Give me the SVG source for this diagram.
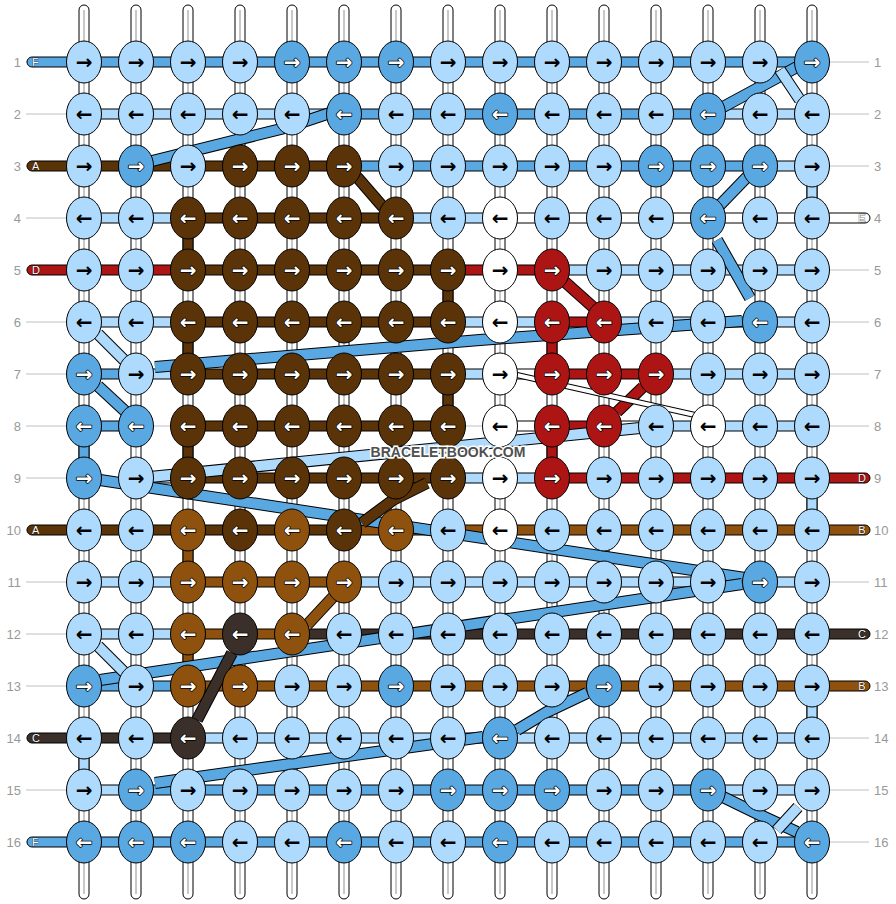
<svg xmlns="http://www.w3.org/2000/svg" xmlns:xlink="http://www.w3.org/1999/xlink" width="896" height="904" viewBox="0 0 896 904">
<style>
.n ellipse{stroke:#000;stroke-width:1}
.n text{font-family:"DejaVu Sans",sans-serif;font-weight:bold;font-size:20px;text-anchor:middle}
.L ellipse{fill:#aedbfd}.B ellipse{fill:#59a8e2}.D ellipse{fill:#5a3408}.O ellipse{fill:#8e520e}.R ellipse{fill:#ad1515}.K ellipse{fill:#3a3029}.W ellipse{fill:#fff}
.L text,.W text{fill:#000}
.B text,.D text,.O text,.R text,.K text{fill:#fff;stroke:#000;stroke-width:1.5px;paint-order:stroke;stroke-linejoin:round}
.fL{fill:#aedbfd}.fB{fill:#59a8e2}.fD{fill:#5a3408}.fO{fill:#8e520e}.fR{fill:#ad1515}.fK{fill:#3a3029}.fW{fill:#fff}
.lbl{font-family:"Liberation Sans",Arial,sans-serif;font-size:13px;fill:#999}
.tg{font-family:"Liberation Sans",Arial,sans-serif;font-size:11px;fill:#fff;stroke:#000;stroke-width:0.6px;paint-order:stroke}
.str rect{fill:#fff;stroke:#000;stroke-width:1}
.str line{stroke:#c8c8c8;stroke-width:2}
.gl line{stroke:#c0c0c0;stroke-width:1}
.bd polyline{fill:none;stroke-linejoin:round}
.o{stroke:#000;stroke-width:12px}
.cB{stroke:#59a8e2;stroke-width:10px}.cL{stroke:#aedbfd;stroke-width:10px}.cD{stroke:#5a3408;stroke-width:10px}.cR{stroke:#ad1515;stroke-width:10px}.cO{stroke:#8e520e;stroke-width:10px}.cK{stroke:#3a3029;stroke-width:10px}
.ow{stroke:#000;stroke-width:6px}.cW{stroke:#fff;stroke-width:4px}
.wm{font-family:"Liberation Sans",Arial,sans-serif;font-weight:bold;font-size:14px;fill:#505050;stroke:#fff;stroke-width:3px;paint-order:stroke;text-anchor:middle}
</style>
<defs>
<rect id="sg" y="-5" width="28" height="10" stroke="#000"/>
<rect id="vs" width="10" height="20" stroke="#000"/>
<rect id="tl" x="27" y="-5" width="44" height="10" rx="5" stroke="#000"/>
<rect id="tr" x="825" y="-5" width="45" height="10" rx="5" stroke="#000"/>
</defs>
<g id="guides" class="gl">
<line x1="26" y1="62" x2="869" y2="62"/><line x1="26" y1="114" x2="869" y2="114"/><line x1="26" y1="166" x2="869" y2="166"/><line x1="26" y1="218" x2="869" y2="218"/><line x1="26" y1="270" x2="869" y2="270"/><line x1="26" y1="322" x2="869" y2="322"/><line x1="26" y1="374" x2="869" y2="374"/><line x1="26" y1="426" x2="869" y2="426"/><line x1="26" y1="478" x2="869" y2="478"/><line x1="26" y1="530" x2="869" y2="530"/><line x1="26" y1="582" x2="869" y2="582"/><line x1="26" y1="634" x2="869" y2="634"/><line x1="26" y1="686" x2="869" y2="686"/><line x1="26" y1="738" x2="869" y2="738"/><line x1="26" y1="790" x2="869" y2="790"/><line x1="26" y1="842" x2="869" y2="842"/>
</g>
<g id="row-labels" class="lbl">
<g text-anchor="end"><text x="21" y="67">1</text><text x="21" y="119">2</text><text x="21" y="171">3</text><text x="21" y="223">4</text><text x="21" y="275">5</text><text x="21" y="327">6</text><text x="21" y="379">7</text><text x="21" y="431">8</text><text x="21" y="483">9</text><text x="21" y="535">10</text><text x="21" y="587">11</text><text x="21" y="639">12</text><text x="21" y="691">13</text><text x="21" y="743">14</text><text x="21" y="795">15</text><text x="21" y="847">16</text></g>
<g><text x="874" y="67">1</text><text x="874" y="119">2</text><text x="874" y="171">3</text><text x="874" y="223">4</text><text x="874" y="275">5</text><text x="874" y="327">6</text><text x="874" y="379">7</text><text x="874" y="431">8</text><text x="874" y="483">9</text><text x="874" y="535">10</text><text x="874" y="587">11</text><text x="874" y="639">12</text><text x="874" y="691">13</text><text x="874" y="743">14</text><text x="874" y="795">15</text><text x="874" y="847">16</text></g>
</g>
<g id="strings" class="str">
<rect x="79" y="5" width="10" height="894" rx="5"/><line x1="84" y1="10" x2="84" y2="894"/>
<rect x="131" y="5" width="10" height="894" rx="5"/><line x1="136" y1="10" x2="136" y2="894"/>
<rect x="183" y="5" width="10" height="894" rx="5"/><line x1="188" y1="10" x2="188" y2="894"/>
<rect x="235" y="5" width="10" height="894" rx="5"/><line x1="240" y1="10" x2="240" y2="894"/>
<rect x="287" y="5" width="10" height="894" rx="5"/><line x1="292" y1="10" x2="292" y2="894"/>
<rect x="339" y="5" width="10" height="894" rx="5"/><line x1="344" y1="10" x2="344" y2="894"/>
<rect x="391" y="5" width="10" height="894" rx="5"/><line x1="396" y1="10" x2="396" y2="894"/>
<rect x="443" y="5" width="10" height="894" rx="5"/><line x1="448" y1="10" x2="448" y2="894"/>
<rect x="495" y="5" width="10" height="894" rx="5"/><line x1="500" y1="10" x2="500" y2="894"/>
<rect x="547" y="5" width="10" height="894" rx="5"/><line x1="552" y1="10" x2="552" y2="894"/>
<rect x="599" y="5" width="10" height="894" rx="5"/><line x1="604" y1="10" x2="604" y2="894"/>
<rect x="651" y="5" width="10" height="894" rx="5"/><line x1="656" y1="10" x2="656" y2="894"/>
<rect x="703" y="5" width="10" height="894" rx="5"/><line x1="708" y1="10" x2="708" y2="894"/>
<rect x="755" y="5" width="10" height="894" rx="5"/><line x1="760" y1="10" x2="760" y2="894"/>
<rect x="807" y="5" width="10" height="894" rx="5"/><line x1="812" y1="10" x2="812" y2="894"/>
</g>
<g id="connectors">
<g id="vertical-segments">
<use href="#vs" x="183" y="234" class="fD"/><use href="#vs" x="443" y="286" class="fD"/><use href="#vs" x="183" y="338" class="fD"/><use href="#vs" x="443" y="390" class="fD"/><use href="#vs" x="183" y="442" class="fD"/><use href="#vs" x="79" y="442" class="fB"/><use href="#vs" x="547" y="338" class="fR"/><use href="#vs" x="547" y="442" class="fR"/><use href="#vs" x="183" y="546" class="fO"/><use href="#vs" x="183" y="650" class="fO"/><use href="#vs" x="807" y="182" class="fL"/><use href="#vs" x="807" y="494" class="fL"/><use href="#vs" x="807" y="702" class="fL"/><use href="#vs" x="79" y="754" class="fL"/>
</g>
<g id="row-segments">
<g transform="translate(0 62)"><use href="#tl" class="fB"/><use href="#sg" x="96" class="fB"/><use href="#sg" x="148" class="fB"/><use href="#sg" x="200" class="fB"/><use href="#sg" x="252" class="fB"/><use href="#sg" x="304" class="fB"/><use href="#sg" x="356" class="fB"/><use href="#sg" x="408" class="fB"/><use href="#sg" x="460" class="fB"/><use href="#sg" x="512" class="fB"/><use href="#sg" x="564" class="fB"/><use href="#sg" x="616" class="fB"/><use href="#sg" x="668" class="fB"/><use href="#sg" x="720" class="fB"/><use href="#sg" x="772" class="fB"/></g>
<g transform="translate(0 114)"><use href="#sg" x="96" class="fL"/><use href="#sg" x="148" class="fL"/><use href="#sg" x="200" class="fL"/><use href="#sg" x="252" class="fL"/><use href="#sg" x="304" class="fL"/><use href="#sg" x="356" class="fB"/><use href="#sg" x="408" class="fB"/><use href="#sg" x="460" class="fB"/><use href="#sg" x="512" class="fB"/><use href="#sg" x="564" class="fB"/><use href="#sg" x="616" class="fB"/><use href="#sg" x="668" class="fB"/><use href="#sg" x="720" class="fL"/><use href="#sg" x="772" class="fL"/></g>
<g transform="translate(0 166)"><use href="#tl" class="fD"/><use href="#sg" x="96" class="fD"/><use href="#sg" x="148" class="fD"/><use href="#sg" x="200" class="fD"/><use href="#sg" x="252" class="fD"/><use href="#sg" x="304" class="fD"/><use href="#sg" x="356" class="fB"/><use href="#sg" x="408" class="fB"/><use href="#sg" x="460" class="fB"/><use href="#sg" x="512" class="fB"/><use href="#sg" x="564" class="fB"/><use href="#sg" x="616" class="fB"/><use href="#sg" x="668" class="fB"/><use href="#sg" x="720" class="fB"/><use href="#sg" x="772" class="fL"/></g>
<g transform="translate(0 218)"><use href="#sg" x="96" class="fL"/><use href="#sg" x="148" class="fL"/><use href="#sg" x="200" class="fD"/><use href="#sg" x="252" class="fD"/><use href="#sg" x="304" class="fD"/><use href="#sg" x="356" class="fD"/><use href="#sg" x="408" class="fL"/><use href="#sg" x="460" class="fL"/><use href="#sg" x="512" class="fW"/><use href="#sg" x="564" class="fW"/><use href="#sg" x="616" class="fW"/><use href="#sg" x="668" class="fW"/><use href="#sg" x="720" class="fW"/><use href="#sg" x="772" class="fW"/><use href="#tr" class="fW"/></g>
<g transform="translate(0 270)"><use href="#tl" class="fR"/><use href="#sg" x="96" class="fR"/><use href="#sg" x="148" class="fR"/><use href="#sg" x="200" class="fD"/><use href="#sg" x="252" class="fD"/><use href="#sg" x="304" class="fD"/><use href="#sg" x="356" class="fD"/><use href="#sg" x="408" class="fD"/><use href="#sg" x="460" class="fR"/><use href="#sg" x="512" class="fR"/><use href="#sg" x="564" class="fL"/><use href="#sg" x="616" class="fL"/><use href="#sg" x="668" class="fL"/><use href="#sg" x="720" class="fL"/><use href="#sg" x="772" class="fL"/></g>
<g transform="translate(0 322)"><use href="#sg" x="96" class="fL"/><use href="#sg" x="148" class="fL"/><use href="#sg" x="200" class="fD"/><use href="#sg" x="252" class="fD"/><use href="#sg" x="304" class="fD"/><use href="#sg" x="356" class="fD"/><use href="#sg" x="408" class="fD"/><use href="#sg" x="460" class="fL"/><use href="#sg" x="512" class="fL"/><use href="#sg" x="564" class="fR"/><use href="#sg" x="616" class="fL"/><use href="#sg" x="668" class="fL"/><use href="#sg" x="720" class="fB"/><use href="#sg" x="772" class="fL"/></g>
<g transform="translate(0 374)"><use href="#sg" x="96" class="fB"/><use href="#sg" x="148" class="fL"/><use href="#sg" x="200" class="fD"/><use href="#sg" x="252" class="fD"/><use href="#sg" x="304" class="fD"/><use href="#sg" x="356" class="fD"/><use href="#sg" x="408" class="fD"/><use href="#sg" x="460" class="fL"/><use href="#sg" x="512" class="fW"/><use href="#sg" x="564" class="fR"/><use href="#sg" x="616" class="fR"/><use href="#sg" x="668" class="fL"/><use href="#sg" x="720" class="fL"/><use href="#sg" x="772" class="fL"/></g>
<g transform="translate(0 426)"><use href="#sg" x="96" class="fB"/><use href="#sg" x="200" class="fD"/><use href="#sg" x="252" class="fD"/><use href="#sg" x="304" class="fD"/><use href="#sg" x="356" class="fD"/><use href="#sg" x="408" class="fD"/><use href="#sg" x="512" class="fW"/><use href="#sg" x="564" class="fR"/><use href="#sg" x="616" class="fW"/><use href="#sg" x="668" class="fL"/><use href="#sg" x="720" class="fL"/><use href="#sg" x="772" class="fL"/></g>
<g transform="translate(0 478)"><use href="#sg" x="148" class="fL"/><use href="#sg" x="200" class="fD"/><use href="#sg" x="252" class="fD"/><use href="#sg" x="304" class="fD"/><use href="#sg" x="356" class="fD"/><use href="#sg" x="408" class="fD"/><use href="#sg" x="460" class="fL"/><use href="#sg" x="512" class="fL"/><use href="#sg" x="564" class="fR"/><use href="#sg" x="616" class="fR"/><use href="#sg" x="668" class="fR"/><use href="#sg" x="720" class="fR"/><use href="#sg" x="772" class="fR"/><use href="#tr" class="fR"/></g>
<g transform="translate(0 530)"><use href="#tl" class="fD"/><use href="#sg" x="96" class="fD"/><use href="#sg" x="148" class="fD"/><use href="#sg" x="200" class="fD"/><use href="#sg" x="252" class="fD"/><use href="#sg" x="304" class="fD"/><use href="#sg" x="356" class="fO"/><use href="#sg" x="408" class="fO"/><use href="#sg" x="460" class="fO"/><use href="#sg" x="512" class="fO"/><use href="#sg" x="564" class="fO"/><use href="#sg" x="616" class="fO"/><use href="#sg" x="668" class="fO"/><use href="#sg" x="720" class="fO"/><use href="#sg" x="772" class="fO"/><use href="#tr" class="fO"/></g>
<g transform="translate(0 582)"><use href="#sg" x="96" class="fL"/><use href="#sg" x="148" class="fL"/><use href="#sg" x="200" class="fO"/><use href="#sg" x="252" class="fO"/><use href="#sg" x="304" class="fO"/><use href="#sg" x="356" class="fL"/><use href="#sg" x="408" class="fL"/><use href="#sg" x="460" class="fL"/><use href="#sg" x="512" class="fL"/><use href="#sg" x="564" class="fL"/><use href="#sg" x="616" class="fL"/><use href="#sg" x="668" class="fL"/><use href="#sg" x="720" class="fB"/><use href="#sg" x="772" class="fL"/></g>
<g transform="translate(0 634)"><use href="#sg" x="96" class="fL"/><use href="#sg" x="148" class="fL"/><use href="#sg" x="200" class="fO"/><use href="#sg" x="252" class="fO"/><use href="#sg" x="304" class="fK"/><use href="#sg" x="356" class="fK"/><use href="#sg" x="408" class="fK"/><use href="#sg" x="460" class="fK"/><use href="#sg" x="512" class="fK"/><use href="#sg" x="564" class="fK"/><use href="#sg" x="616" class="fK"/><use href="#sg" x="668" class="fK"/><use href="#sg" x="720" class="fK"/><use href="#sg" x="772" class="fK"/><use href="#tr" class="fK"/></g>
<g transform="translate(0 686)"><use href="#sg" x="96" class="fB"/><use href="#sg" x="148" class="fB"/><use href="#sg" x="200" class="fO"/><use href="#sg" x="252" class="fO"/><use href="#sg" x="304" class="fO"/><use href="#sg" x="356" class="fO"/><use href="#sg" x="408" class="fO"/><use href="#sg" x="460" class="fO"/><use href="#sg" x="512" class="fO"/><use href="#sg" x="564" class="fO"/><use href="#sg" x="616" class="fO"/><use href="#sg" x="668" class="fO"/><use href="#sg" x="720" class="fO"/><use href="#sg" x="772" class="fO"/><use href="#tr" class="fO"/></g>
<g transform="translate(0 738)"><use href="#tl" class="fK"/><use href="#sg" x="96" class="fK"/><use href="#sg" x="148" class="fK"/><use href="#sg" x="200" class="fL"/><use href="#sg" x="252" class="fL"/><use href="#sg" x="304" class="fL"/><use href="#sg" x="356" class="fL"/><use href="#sg" x="408" class="fL"/><use href="#sg" x="460" class="fL"/><use href="#sg" x="512" class="fL"/><use href="#sg" x="564" class="fL"/><use href="#sg" x="616" class="fL"/><use href="#sg" x="668" class="fL"/><use href="#sg" x="720" class="fL"/><use href="#sg" x="772" class="fL"/></g>
<g transform="translate(0 790)"><use href="#sg" x="96" class="fL"/><use href="#sg" x="148" class="fB"/><use href="#sg" x="200" class="fB"/><use href="#sg" x="252" class="fB"/><use href="#sg" x="304" class="fB"/><use href="#sg" x="356" class="fB"/><use href="#sg" x="408" class="fB"/><use href="#sg" x="460" class="fB"/><use href="#sg" x="512" class="fB"/><use href="#sg" x="564" class="fB"/><use href="#sg" x="616" class="fB"/><use href="#sg" x="668" class="fB"/><use href="#sg" x="720" class="fL"/><use href="#sg" x="772" class="fL"/></g>
<g transform="translate(0 842)"><use href="#tl" class="fB"/><use href="#sg" x="96" class="fB"/><use href="#sg" x="148" class="fB"/><use href="#sg" x="200" class="fB"/><use href="#sg" x="252" class="fB"/><use href="#sg" x="304" class="fB"/><use href="#sg" x="356" class="fB"/><use href="#sg" x="408" class="fB"/><use href="#sg" x="460" class="fB"/><use href="#sg" x="512" class="fB"/><use href="#sg" x="564" class="fB"/><use href="#sg" x="616" class="fB"/><use href="#sg" x="668" class="fB"/><use href="#sg" x="720" class="fB"/><use href="#sg" x="772" class="fB"/></g>
</g>
<g id="tag-letters" class="tg">
<text x="32" y="66">F</text><text x="32" y="170">A</text><text x="32" y="274">D</text><text x="32" y="534">A</text><text x="32" y="742">C</text><text x="32" y="846">F</text>
<g text-anchor="middle"><text x="862" y="222">E</text><text x="862" y="482">D</text><text x="862" y="534">B</text><text x="862" y="638">C</text><text x="862" y="690">B</text></g>
</g>
<g id="diagonals" class="bd">
<polyline class="o" points="152,161 285,128 330,113"/><polyline class="cB" points="152,161 285,128 330,113"/>
<polyline class="o" points="797,67 760,87 723,107"/><polyline class="cB" points="797,67 760,87 723,107"/>
<polyline class="o" points="780,70 800,100"/><polyline class="cL" points="780,70 800,100"/>
<polyline class="o" points="747,177 720,205"/><polyline class="cB" points="747,177 720,205"/>
<polyline class="o" points="717,240 750,298"/><polyline class="cB" points="717,240 750,298"/>
<polyline class="o" points="357,177 383,207"/><polyline class="cD" points="357,177 383,207"/>
<polyline class="o" points="565,282 593,307"/><polyline class="cR" points="565,282 593,307"/>
<polyline class="o" points="643,387 617,412"/><polyline class="cR" points="643,387 617,412"/>
<polyline class="o" points="155,367 480,340 742,321"/><polyline class="cB" points="155,367 480,340 742,321"/>
<polyline class="o" points="98,334 126,362"/><polyline class="cL" points="98,334 126,362"/>
<polyline class="o" points="98,386 126,412"/><polyline class="cB" points="98,386 126,412"/>
<polyline class="ow" points="517,375 695,415"/><polyline class="cW" points="517,375 695,415"/>
<polyline class="o" points="150,477 640,428"/><polyline class="cL" points="150,477 640,428"/>
<polyline class="o" points="100,480 745,578"/><polyline class="cB" points="100,480 745,578"/>
<polyline class="o" points="742,584 100,680"/><polyline class="cB" points="742,584 100,680"/>
<polyline class="o" points="98,646 126,674"/><polyline class="cL" points="98,646 126,674"/>
<polyline class="o" points="333,597 307,625"/><polyline class="cO" points="333,597 307,625"/>
<polyline class="o" points="232,653 197,720"/><polyline class="cK" points="232,653 197,720"/>
<polyline class="o" points="427,483 393,500 362,523"/><polyline class="cD" points="427,483 393,500 362,523"/>
<polyline class="o" points="587,693 547,712 517,730"/><polyline class="cB" points="587,693 547,712 517,730"/>
<polyline class="o" points="483,737 155,783"/><polyline class="cB" points="483,737 155,783"/>
<polyline class="o" points="723,797 760,815 797,832"/><polyline class="cB" points="723,797 760,815 797,832"/>
<polyline class="o" points="798,807 777,830"/><polyline class="cL" points="798,807 777,830"/>
</g>
</g>
<g id="nodes">
<g id="n1-1" class="n L" transform="translate(84 62)"><ellipse rx="17.5" ry="21"/><text y="6.5">→</text></g>
<g id="n1-2" class="n L" transform="translate(136 62)"><ellipse rx="17.5" ry="21"/><text y="6.5">→</text></g>
<g id="n1-3" class="n L" transform="translate(188 62)"><ellipse rx="17.5" ry="21"/><text y="6.5">→</text></g>
<g id="n1-4" class="n L" transform="translate(240 62)"><ellipse rx="17.5" ry="21"/><text y="6.5">→</text></g>
<g id="n1-5" class="n B" transform="translate(292 62)"><ellipse rx="17.5" ry="21"/><text y="6.5">→</text></g>
<g id="n1-6" class="n B" transform="translate(344 62)"><ellipse rx="17.5" ry="21"/><text y="6.5">→</text></g>
<g id="n1-7" class="n B" transform="translate(396 62)"><ellipse rx="17.5" ry="21"/><text y="6.5">→</text></g>
<g id="n1-8" class="n L" transform="translate(448 62)"><ellipse rx="17.5" ry="21"/><text y="6.5">→</text></g>
<g id="n1-9" class="n L" transform="translate(500 62)"><ellipse rx="17.5" ry="21"/><text y="6.5">→</text></g>
<g id="n1-10" class="n L" transform="translate(552 62)"><ellipse rx="17.5" ry="21"/><text y="6.5">→</text></g>
<g id="n1-11" class="n L" transform="translate(604 62)"><ellipse rx="17.5" ry="21"/><text y="6.5">→</text></g>
<g id="n1-12" class="n L" transform="translate(656 62)"><ellipse rx="17.5" ry="21"/><text y="6.5">→</text></g>
<g id="n1-13" class="n L" transform="translate(708 62)"><ellipse rx="17.5" ry="21"/><text y="6.5">→</text></g>
<g id="n1-14" class="n L" transform="translate(760 62)"><ellipse rx="17.5" ry="21"/><text y="6.5">→</text></g>
<g id="n1-15" class="n B" transform="translate(812 62)"><ellipse rx="17.5" ry="21"/><text y="6.5">→</text></g>
<g id="n2-1" class="n L" transform="translate(84 114)"><ellipse rx="17.5" ry="21"/><text y="6.5">←</text></g>
<g id="n2-2" class="n L" transform="translate(136 114)"><ellipse rx="17.5" ry="21"/><text y="6.5">←</text></g>
<g id="n2-3" class="n L" transform="translate(188 114)"><ellipse rx="17.5" ry="21"/><text y="6.5">←</text></g>
<g id="n2-4" class="n L" transform="translate(240 114)"><ellipse rx="17.5" ry="21"/><text y="6.5">←</text></g>
<g id="n2-5" class="n L" transform="translate(292 114)"><ellipse rx="17.5" ry="21"/><text y="6.5">←</text></g>
<g id="n2-6" class="n B" transform="translate(344 114)"><ellipse rx="17.5" ry="21"/><text y="6.5">←</text></g>
<g id="n2-7" class="n L" transform="translate(396 114)"><ellipse rx="17.5" ry="21"/><text y="6.5">←</text></g>
<g id="n2-8" class="n L" transform="translate(448 114)"><ellipse rx="17.5" ry="21"/><text y="6.5">←</text></g>
<g id="n2-9" class="n B" transform="translate(500 114)"><ellipse rx="17.5" ry="21"/><text y="6.5">←</text></g>
<g id="n2-10" class="n L" transform="translate(552 114)"><ellipse rx="17.5" ry="21"/><text y="6.5">←</text></g>
<g id="n2-11" class="n L" transform="translate(604 114)"><ellipse rx="17.5" ry="21"/><text y="6.5">←</text></g>
<g id="n2-12" class="n L" transform="translate(656 114)"><ellipse rx="17.5" ry="21"/><text y="6.5">←</text></g>
<g id="n2-13" class="n B" transform="translate(708 114)"><ellipse rx="17.5" ry="21"/><text y="6.5">←</text></g>
<g id="n2-14" class="n L" transform="translate(760 114)"><ellipse rx="17.5" ry="21"/><text y="6.5">←</text></g>
<g id="n2-15" class="n L" transform="translate(812 114)"><ellipse rx="17.5" ry="21"/><text y="6.5">←</text></g>
<g id="n3-1" class="n L" transform="translate(84 166)"><ellipse rx="17.5" ry="21"/><text y="6.5">→</text></g>
<g id="n3-2" class="n B" transform="translate(136 166)"><ellipse rx="17.5" ry="21"/><text y="6.5">→</text></g>
<g id="n3-3" class="n L" transform="translate(188 166)"><ellipse rx="17.5" ry="21"/><text y="6.5">→</text></g>
<g id="n3-4" class="n D" transform="translate(240 166)"><ellipse rx="17.5" ry="21"/><text y="6.5">→</text></g>
<g id="n3-5" class="n D" transform="translate(292 166)"><ellipse rx="17.5" ry="21"/><text y="6.5">→</text></g>
<g id="n3-6" class="n D" transform="translate(344 166)"><ellipse rx="17.5" ry="21"/><text y="6.5">→</text></g>
<g id="n3-7" class="n L" transform="translate(396 166)"><ellipse rx="17.5" ry="21"/><text y="6.5">→</text></g>
<g id="n3-8" class="n L" transform="translate(448 166)"><ellipse rx="17.5" ry="21"/><text y="6.5">→</text></g>
<g id="n3-9" class="n L" transform="translate(500 166)"><ellipse rx="17.5" ry="21"/><text y="6.5">→</text></g>
<g id="n3-10" class="n L" transform="translate(552 166)"><ellipse rx="17.5" ry="21"/><text y="6.5">→</text></g>
<g id="n3-11" class="n L" transform="translate(604 166)"><ellipse rx="17.5" ry="21"/><text y="6.5">→</text></g>
<g id="n3-12" class="n B" transform="translate(656 166)"><ellipse rx="17.5" ry="21"/><text y="6.5">→</text></g>
<g id="n3-13" class="n B" transform="translate(708 166)"><ellipse rx="17.5" ry="21"/><text y="6.5">→</text></g>
<g id="n3-14" class="n B" transform="translate(760 166)"><ellipse rx="17.5" ry="21"/><text y="6.5">→</text></g>
<g id="n3-15" class="n L" transform="translate(812 166)"><ellipse rx="17.5" ry="21"/><text y="6.5">→</text></g>
<g id="n4-1" class="n L" transform="translate(84 218)"><ellipse rx="17.5" ry="21"/><text y="6.5">←</text></g>
<g id="n4-2" class="n L" transform="translate(136 218)"><ellipse rx="17.5" ry="21"/><text y="6.5">←</text></g>
<g id="n4-3" class="n D" transform="translate(188 218)"><ellipse rx="17.5" ry="21"/><text y="6.5">←</text></g>
<g id="n4-4" class="n D" transform="translate(240 218)"><ellipse rx="17.5" ry="21"/><text y="6.5">←</text></g>
<g id="n4-5" class="n D" transform="translate(292 218)"><ellipse rx="17.5" ry="21"/><text y="6.5">←</text></g>
<g id="n4-6" class="n D" transform="translate(344 218)"><ellipse rx="17.5" ry="21"/><text y="6.5">←</text></g>
<g id="n4-7" class="n D" transform="translate(396 218)"><ellipse rx="17.5" ry="21"/><text y="6.5">←</text></g>
<g id="n4-8" class="n L" transform="translate(448 218)"><ellipse rx="17.5" ry="21"/><text y="6.5">←</text></g>
<g id="n4-9" class="n W" transform="translate(500 218)"><ellipse rx="17.5" ry="21"/><text y="6.5">←</text></g>
<g id="n4-10" class="n L" transform="translate(552 218)"><ellipse rx="17.5" ry="21"/><text y="6.5">←</text></g>
<g id="n4-11" class="n L" transform="translate(604 218)"><ellipse rx="17.5" ry="21"/><text y="6.5">←</text></g>
<g id="n4-12" class="n L" transform="translate(656 218)"><ellipse rx="17.5" ry="21"/><text y="6.5">←</text></g>
<g id="n4-13" class="n B" transform="translate(708 218)"><ellipse rx="17.5" ry="21"/><text y="6.5">←</text></g>
<g id="n4-14" class="n L" transform="translate(760 218)"><ellipse rx="17.5" ry="21"/><text y="6.5">←</text></g>
<g id="n4-15" class="n L" transform="translate(812 218)"><ellipse rx="17.5" ry="21"/><text y="6.5">←</text></g>
<g id="n5-1" class="n L" transform="translate(84 270)"><ellipse rx="17.5" ry="21"/><text y="6.5">→</text></g>
<g id="n5-2" class="n L" transform="translate(136 270)"><ellipse rx="17.5" ry="21"/><text y="6.5">→</text></g>
<g id="n5-3" class="n D" transform="translate(188 270)"><ellipse rx="17.5" ry="21"/><text y="6.5">→</text></g>
<g id="n5-4" class="n D" transform="translate(240 270)"><ellipse rx="17.5" ry="21"/><text y="6.5">→</text></g>
<g id="n5-5" class="n D" transform="translate(292 270)"><ellipse rx="17.5" ry="21"/><text y="6.5">→</text></g>
<g id="n5-6" class="n D" transform="translate(344 270)"><ellipse rx="17.5" ry="21"/><text y="6.5">→</text></g>
<g id="n5-7" class="n D" transform="translate(396 270)"><ellipse rx="17.5" ry="21"/><text y="6.5">→</text></g>
<g id="n5-8" class="n D" transform="translate(448 270)"><ellipse rx="17.5" ry="21"/><text y="6.5">→</text></g>
<g id="n5-9" class="n W" transform="translate(500 270)"><ellipse rx="17.5" ry="21"/><text y="6.5">→</text></g>
<g id="n5-10" class="n R" transform="translate(552 270)"><ellipse rx="17.5" ry="21"/><text y="6.5">→</text></g>
<g id="n5-11" class="n L" transform="translate(604 270)"><ellipse rx="17.5" ry="21"/><text y="6.5">→</text></g>
<g id="n5-12" class="n L" transform="translate(656 270)"><ellipse rx="17.5" ry="21"/><text y="6.5">→</text></g>
<g id="n5-13" class="n L" transform="translate(708 270)"><ellipse rx="17.5" ry="21"/><text y="6.5">→</text></g>
<g id="n5-14" class="n L" transform="translate(760 270)"><ellipse rx="17.5" ry="21"/><text y="6.5">→</text></g>
<g id="n5-15" class="n L" transform="translate(812 270)"><ellipse rx="17.5" ry="21"/><text y="6.5">→</text></g>
<g id="n6-1" class="n L" transform="translate(84 322)"><ellipse rx="17.5" ry="21"/><text y="6.5">←</text></g>
<g id="n6-2" class="n L" transform="translate(136 322)"><ellipse rx="17.5" ry="21"/><text y="6.5">←</text></g>
<g id="n6-3" class="n D" transform="translate(188 322)"><ellipse rx="17.5" ry="21"/><text y="6.5">←</text></g>
<g id="n6-4" class="n D" transform="translate(240 322)"><ellipse rx="17.5" ry="21"/><text y="6.5">←</text></g>
<g id="n6-5" class="n D" transform="translate(292 322)"><ellipse rx="17.5" ry="21"/><text y="6.5">←</text></g>
<g id="n6-6" class="n D" transform="translate(344 322)"><ellipse rx="17.5" ry="21"/><text y="6.5">←</text></g>
<g id="n6-7" class="n D" transform="translate(396 322)"><ellipse rx="17.5" ry="21"/><text y="6.5">←</text></g>
<g id="n6-8" class="n D" transform="translate(448 322)"><ellipse rx="17.5" ry="21"/><text y="6.5">←</text></g>
<g id="n6-9" class="n W" transform="translate(500 322)"><ellipse rx="17.5" ry="21"/><text y="6.5">←</text></g>
<g id="n6-10" class="n R" transform="translate(552 322)"><ellipse rx="17.5" ry="21"/><text y="6.5">←</text></g>
<g id="n6-11" class="n R" transform="translate(604 322)"><ellipse rx="17.5" ry="21"/><text y="6.5">←</text></g>
<g id="n6-12" class="n L" transform="translate(656 322)"><ellipse rx="17.5" ry="21"/><text y="6.5">←</text></g>
<g id="n6-13" class="n L" transform="translate(708 322)"><ellipse rx="17.5" ry="21"/><text y="6.5">←</text></g>
<g id="n6-14" class="n B" transform="translate(760 322)"><ellipse rx="17.5" ry="21"/><text y="6.5">←</text></g>
<g id="n6-15" class="n L" transform="translate(812 322)"><ellipse rx="17.5" ry="21"/><text y="6.5">←</text></g>
<g id="n7-1" class="n B" transform="translate(84 374)"><ellipse rx="17.5" ry="21"/><text y="6.5">→</text></g>
<g id="n7-2" class="n L" transform="translate(136 374)"><ellipse rx="17.5" ry="21"/><text y="6.5">→</text></g>
<g id="n7-3" class="n D" transform="translate(188 374)"><ellipse rx="17.5" ry="21"/><text y="6.5">→</text></g>
<g id="n7-4" class="n D" transform="translate(240 374)"><ellipse rx="17.5" ry="21"/><text y="6.5">→</text></g>
<g id="n7-5" class="n D" transform="translate(292 374)"><ellipse rx="17.5" ry="21"/><text y="6.5">→</text></g>
<g id="n7-6" class="n D" transform="translate(344 374)"><ellipse rx="17.5" ry="21"/><text y="6.5">→</text></g>
<g id="n7-7" class="n D" transform="translate(396 374)"><ellipse rx="17.5" ry="21"/><text y="6.5">→</text></g>
<g id="n7-8" class="n D" transform="translate(448 374)"><ellipse rx="17.5" ry="21"/><text y="6.5">→</text></g>
<g id="n7-9" class="n W" transform="translate(500 374)"><ellipse rx="17.5" ry="21"/><text y="6.5">→</text></g>
<g id="n7-10" class="n R" transform="translate(552 374)"><ellipse rx="17.5" ry="21"/><text y="6.5">→</text></g>
<g id="n7-11" class="n R" transform="translate(604 374)"><ellipse rx="17.5" ry="21"/><text y="6.5">→</text></g>
<g id="n7-12" class="n R" transform="translate(656 374)"><ellipse rx="17.5" ry="21"/><text y="6.5">→</text></g>
<g id="n7-13" class="n L" transform="translate(708 374)"><ellipse rx="17.5" ry="21"/><text y="6.5">→</text></g>
<g id="n7-14" class="n L" transform="translate(760 374)"><ellipse rx="17.5" ry="21"/><text y="6.5">→</text></g>
<g id="n7-15" class="n L" transform="translate(812 374)"><ellipse rx="17.5" ry="21"/><text y="6.5">→</text></g>
<g id="n8-1" class="n B" transform="translate(84 426)"><ellipse rx="17.5" ry="21"/><text y="6.5">←</text></g>
<g id="n8-2" class="n B" transform="translate(136 426)"><ellipse rx="17.5" ry="21"/><text y="6.5">←</text></g>
<g id="n8-3" class="n D" transform="translate(188 426)"><ellipse rx="17.5" ry="21"/><text y="6.5">←</text></g>
<g id="n8-4" class="n D" transform="translate(240 426)"><ellipse rx="17.5" ry="21"/><text y="6.5">←</text></g>
<g id="n8-5" class="n D" transform="translate(292 426)"><ellipse rx="17.5" ry="21"/><text y="6.5">←</text></g>
<g id="n8-6" class="n D" transform="translate(344 426)"><ellipse rx="17.5" ry="21"/><text y="6.5">←</text></g>
<g id="n8-7" class="n D" transform="translate(396 426)"><ellipse rx="17.5" ry="21"/><text y="6.5">←</text></g>
<g id="n8-8" class="n D" transform="translate(448 426)"><ellipse rx="17.5" ry="21"/><text y="6.5">←</text></g>
<g id="n8-9" class="n W" transform="translate(500 426)"><ellipse rx="17.5" ry="21"/><text y="6.5">←</text></g>
<g id="n8-10" class="n R" transform="translate(552 426)"><ellipse rx="17.5" ry="21"/><text y="6.5">←</text></g>
<g id="n8-11" class="n R" transform="translate(604 426)"><ellipse rx="17.5" ry="21"/><text y="6.5">←</text></g>
<g id="n8-12" class="n L" transform="translate(656 426)"><ellipse rx="17.5" ry="21"/><text y="6.5">←</text></g>
<g id="n8-13" class="n W" transform="translate(708 426)"><ellipse rx="17.5" ry="21"/><text y="6.5">←</text></g>
<g id="n8-14" class="n L" transform="translate(760 426)"><ellipse rx="17.5" ry="21"/><text y="6.5">←</text></g>
<g id="n8-15" class="n L" transform="translate(812 426)"><ellipse rx="17.5" ry="21"/><text y="6.5">←</text></g>
<g id="n9-1" class="n B" transform="translate(84 478)"><ellipse rx="17.5" ry="21"/><text y="6.5">→</text></g>
<g id="n9-2" class="n L" transform="translate(136 478)"><ellipse rx="17.5" ry="21"/><text y="6.5">→</text></g>
<g id="n9-3" class="n D" transform="translate(188 478)"><ellipse rx="17.5" ry="21"/><text y="6.5">→</text></g>
<g id="n9-4" class="n D" transform="translate(240 478)"><ellipse rx="17.5" ry="21"/><text y="6.5">→</text></g>
<g id="n9-5" class="n D" transform="translate(292 478)"><ellipse rx="17.5" ry="21"/><text y="6.5">→</text></g>
<g id="n9-6" class="n D" transform="translate(344 478)"><ellipse rx="17.5" ry="21"/><text y="6.5">→</text></g>
<g id="n9-7" class="n D" transform="translate(396 478)"><ellipse rx="17.5" ry="21"/><text y="6.5">→</text></g>
<g id="n9-8" class="n D" transform="translate(448 478)"><ellipse rx="17.5" ry="21"/><text y="6.5">→</text></g>
<g id="n9-9" class="n W" transform="translate(500 478)"><ellipse rx="17.5" ry="21"/><text y="6.5">→</text></g>
<g id="n9-10" class="n R" transform="translate(552 478)"><ellipse rx="17.5" ry="21"/><text y="6.5">→</text></g>
<g id="n9-11" class="n L" transform="translate(604 478)"><ellipse rx="17.5" ry="21"/><text y="6.5">→</text></g>
<g id="n9-12" class="n L" transform="translate(656 478)"><ellipse rx="17.5" ry="21"/><text y="6.5">→</text></g>
<g id="n9-13" class="n L" transform="translate(708 478)"><ellipse rx="17.5" ry="21"/><text y="6.5">→</text></g>
<g id="n9-14" class="n L" transform="translate(760 478)"><ellipse rx="17.5" ry="21"/><text y="6.5">→</text></g>
<g id="n9-15" class="n L" transform="translate(812 478)"><ellipse rx="17.5" ry="21"/><text y="6.5">→</text></g>
<g id="n10-1" class="n L" transform="translate(84 530)"><ellipse rx="17.5" ry="21"/><text y="6.5">←</text></g>
<g id="n10-2" class="n L" transform="translate(136 530)"><ellipse rx="17.5" ry="21"/><text y="6.5">←</text></g>
<g id="n10-3" class="n O" transform="translate(188 530)"><ellipse rx="17.5" ry="21"/><text y="6.5">←</text></g>
<g id="n10-4" class="n D" transform="translate(240 530)"><ellipse rx="17.5" ry="21"/><text y="6.5">←</text></g>
<g id="n10-5" class="n O" transform="translate(292 530)"><ellipse rx="17.5" ry="21"/><text y="6.5">←</text></g>
<g id="n10-6" class="n D" transform="translate(344 530)"><ellipse rx="17.5" ry="21"/><text y="6.5">←</text></g>
<g id="n10-7" class="n O" transform="translate(396 530)"><ellipse rx="17.5" ry="21"/><text y="6.5">←</text></g>
<g id="n10-8" class="n L" transform="translate(448 530)"><ellipse rx="17.5" ry="21"/><text y="6.5">←</text></g>
<g id="n10-9" class="n W" transform="translate(500 530)"><ellipse rx="17.5" ry="21"/><text y="6.5">←</text></g>
<g id="n10-10" class="n L" transform="translate(552 530)"><ellipse rx="17.5" ry="21"/><text y="6.5">←</text></g>
<g id="n10-11" class="n L" transform="translate(604 530)"><ellipse rx="17.5" ry="21"/><text y="6.5">←</text></g>
<g id="n10-12" class="n L" transform="translate(656 530)"><ellipse rx="17.5" ry="21"/><text y="6.5">←</text></g>
<g id="n10-13" class="n L" transform="translate(708 530)"><ellipse rx="17.5" ry="21"/><text y="6.5">←</text></g>
<g id="n10-14" class="n L" transform="translate(760 530)"><ellipse rx="17.5" ry="21"/><text y="6.5">←</text></g>
<g id="n10-15" class="n L" transform="translate(812 530)"><ellipse rx="17.5" ry="21"/><text y="6.5">←</text></g>
<g id="n11-1" class="n L" transform="translate(84 582)"><ellipse rx="17.5" ry="21"/><text y="6.5">→</text></g>
<g id="n11-2" class="n L" transform="translate(136 582)"><ellipse rx="17.5" ry="21"/><text y="6.5">→</text></g>
<g id="n11-3" class="n O" transform="translate(188 582)"><ellipse rx="17.5" ry="21"/><text y="6.5">→</text></g>
<g id="n11-4" class="n O" transform="translate(240 582)"><ellipse rx="17.5" ry="21"/><text y="6.5">→</text></g>
<g id="n11-5" class="n O" transform="translate(292 582)"><ellipse rx="17.5" ry="21"/><text y="6.5">→</text></g>
<g id="n11-6" class="n O" transform="translate(344 582)"><ellipse rx="17.5" ry="21"/><text y="6.5">→</text></g>
<g id="n11-7" class="n L" transform="translate(396 582)"><ellipse rx="17.5" ry="21"/><text y="6.5">→</text></g>
<g id="n11-8" class="n L" transform="translate(448 582)"><ellipse rx="17.5" ry="21"/><text y="6.5">→</text></g>
<g id="n11-9" class="n L" transform="translate(500 582)"><ellipse rx="17.5" ry="21"/><text y="6.5">→</text></g>
<g id="n11-10" class="n L" transform="translate(552 582)"><ellipse rx="17.5" ry="21"/><text y="6.5">→</text></g>
<g id="n11-11" class="n L" transform="translate(604 582)"><ellipse rx="17.5" ry="21"/><text y="6.5">→</text></g>
<g id="n11-12" class="n L" transform="translate(656 582)"><ellipse rx="17.5" ry="21"/><text y="6.5">→</text></g>
<g id="n11-13" class="n L" transform="translate(708 582)"><ellipse rx="17.5" ry="21"/><text y="6.5">→</text></g>
<g id="n11-14" class="n B" transform="translate(760 582)"><ellipse rx="17.5" ry="21"/><text y="6.5">→</text></g>
<g id="n11-15" class="n L" transform="translate(812 582)"><ellipse rx="17.5" ry="21"/><text y="6.5">→</text></g>
<g id="n12-1" class="n L" transform="translate(84 634)"><ellipse rx="17.5" ry="21"/><text y="6.5">←</text></g>
<g id="n12-2" class="n L" transform="translate(136 634)"><ellipse rx="17.5" ry="21"/><text y="6.5">←</text></g>
<g id="n12-3" class="n O" transform="translate(188 634)"><ellipse rx="17.5" ry="21"/><text y="6.5">←</text></g>
<g id="n12-4" class="n K" transform="translate(240 634)"><ellipse rx="17.5" ry="21"/><text y="6.5">←</text></g>
<g id="n12-5" class="n O" transform="translate(292 634)"><ellipse rx="17.5" ry="21"/><text y="6.5">←</text></g>
<g id="n12-6" class="n L" transform="translate(344 634)"><ellipse rx="17.5" ry="21"/><text y="6.5">←</text></g>
<g id="n12-7" class="n L" transform="translate(396 634)"><ellipse rx="17.5" ry="21"/><text y="6.5">←</text></g>
<g id="n12-8" class="n L" transform="translate(448 634)"><ellipse rx="17.5" ry="21"/><text y="6.5">←</text></g>
<g id="n12-9" class="n L" transform="translate(500 634)"><ellipse rx="17.5" ry="21"/><text y="6.5">←</text></g>
<g id="n12-10" class="n L" transform="translate(552 634)"><ellipse rx="17.5" ry="21"/><text y="6.5">←</text></g>
<g id="n12-11" class="n L" transform="translate(604 634)"><ellipse rx="17.5" ry="21"/><text y="6.5">←</text></g>
<g id="n12-12" class="n L" transform="translate(656 634)"><ellipse rx="17.5" ry="21"/><text y="6.5">←</text></g>
<g id="n12-13" class="n L" transform="translate(708 634)"><ellipse rx="17.5" ry="21"/><text y="6.5">←</text></g>
<g id="n12-14" class="n L" transform="translate(760 634)"><ellipse rx="17.5" ry="21"/><text y="6.5">←</text></g>
<g id="n12-15" class="n L" transform="translate(812 634)"><ellipse rx="17.5" ry="21"/><text y="6.5">←</text></g>
<g id="n13-1" class="n B" transform="translate(84 686)"><ellipse rx="17.5" ry="21"/><text y="6.5">→</text></g>
<g id="n13-2" class="n L" transform="translate(136 686)"><ellipse rx="17.5" ry="21"/><text y="6.5">→</text></g>
<g id="n13-3" class="n O" transform="translate(188 686)"><ellipse rx="17.5" ry="21"/><text y="6.5">→</text></g>
<g id="n13-4" class="n O" transform="translate(240 686)"><ellipse rx="17.5" ry="21"/><text y="6.5">→</text></g>
<g id="n13-5" class="n L" transform="translate(292 686)"><ellipse rx="17.5" ry="21"/><text y="6.5">→</text></g>
<g id="n13-6" class="n L" transform="translate(344 686)"><ellipse rx="17.5" ry="21"/><text y="6.5">→</text></g>
<g id="n13-7" class="n B" transform="translate(396 686)"><ellipse rx="17.5" ry="21"/><text y="6.5">→</text></g>
<g id="n13-8" class="n L" transform="translate(448 686)"><ellipse rx="17.5" ry="21"/><text y="6.5">→</text></g>
<g id="n13-9" class="n L" transform="translate(500 686)"><ellipse rx="17.5" ry="21"/><text y="6.5">→</text></g>
<g id="n13-10" class="n L" transform="translate(552 686)"><ellipse rx="17.5" ry="21"/><text y="6.5">→</text></g>
<g id="n13-11" class="n B" transform="translate(604 686)"><ellipse rx="17.5" ry="21"/><text y="6.5">→</text></g>
<g id="n13-12" class="n L" transform="translate(656 686)"><ellipse rx="17.5" ry="21"/><text y="6.5">→</text></g>
<g id="n13-13" class="n L" transform="translate(708 686)"><ellipse rx="17.5" ry="21"/><text y="6.5">→</text></g>
<g id="n13-14" class="n L" transform="translate(760 686)"><ellipse rx="17.5" ry="21"/><text y="6.5">→</text></g>
<g id="n13-15" class="n L" transform="translate(812 686)"><ellipse rx="17.5" ry="21"/><text y="6.5">→</text></g>
<g id="n14-1" class="n L" transform="translate(84 738)"><ellipse rx="17.5" ry="21"/><text y="6.5">←</text></g>
<g id="n14-2" class="n L" transform="translate(136 738)"><ellipse rx="17.5" ry="21"/><text y="6.5">←</text></g>
<g id="n14-3" class="n K" transform="translate(188 738)"><ellipse rx="17.5" ry="21"/><text y="6.5">←</text></g>
<g id="n14-4" class="n L" transform="translate(240 738)"><ellipse rx="17.5" ry="21"/><text y="6.5">←</text></g>
<g id="n14-5" class="n L" transform="translate(292 738)"><ellipse rx="17.5" ry="21"/><text y="6.5">←</text></g>
<g id="n14-6" class="n L" transform="translate(344 738)"><ellipse rx="17.5" ry="21"/><text y="6.5">←</text></g>
<g id="n14-7" class="n L" transform="translate(396 738)"><ellipse rx="17.5" ry="21"/><text y="6.5">←</text></g>
<g id="n14-8" class="n L" transform="translate(448 738)"><ellipse rx="17.5" ry="21"/><text y="6.5">←</text></g>
<g id="n14-9" class="n B" transform="translate(500 738)"><ellipse rx="17.5" ry="21"/><text y="6.5">←</text></g>
<g id="n14-10" class="n L" transform="translate(552 738)"><ellipse rx="17.5" ry="21"/><text y="6.5">←</text></g>
<g id="n14-11" class="n L" transform="translate(604 738)"><ellipse rx="17.5" ry="21"/><text y="6.5">←</text></g>
<g id="n14-12" class="n L" transform="translate(656 738)"><ellipse rx="17.5" ry="21"/><text y="6.5">←</text></g>
<g id="n14-13" class="n L" transform="translate(708 738)"><ellipse rx="17.5" ry="21"/><text y="6.5">←</text></g>
<g id="n14-14" class="n L" transform="translate(760 738)"><ellipse rx="17.5" ry="21"/><text y="6.5">←</text></g>
<g id="n14-15" class="n L" transform="translate(812 738)"><ellipse rx="17.5" ry="21"/><text y="6.5">←</text></g>
<g id="n15-1" class="n L" transform="translate(84 790)"><ellipse rx="17.5" ry="21"/><text y="6.5">→</text></g>
<g id="n15-2" class="n B" transform="translate(136 790)"><ellipse rx="17.5" ry="21"/><text y="6.5">→</text></g>
<g id="n15-3" class="n L" transform="translate(188 790)"><ellipse rx="17.5" ry="21"/><text y="6.5">→</text></g>
<g id="n15-4" class="n L" transform="translate(240 790)"><ellipse rx="17.5" ry="21"/><text y="6.5">→</text></g>
<g id="n15-5" class="n L" transform="translate(292 790)"><ellipse rx="17.5" ry="21"/><text y="6.5">→</text></g>
<g id="n15-6" class="n L" transform="translate(344 790)"><ellipse rx="17.5" ry="21"/><text y="6.5">→</text></g>
<g id="n15-7" class="n L" transform="translate(396 790)"><ellipse rx="17.5" ry="21"/><text y="6.5">→</text></g>
<g id="n15-8" class="n B" transform="translate(448 790)"><ellipse rx="17.5" ry="21"/><text y="6.5">→</text></g>
<g id="n15-9" class="n B" transform="translate(500 790)"><ellipse rx="17.5" ry="21"/><text y="6.5">→</text></g>
<g id="n15-10" class="n B" transform="translate(552 790)"><ellipse rx="17.5" ry="21"/><text y="6.5">→</text></g>
<g id="n15-11" class="n L" transform="translate(604 790)"><ellipse rx="17.5" ry="21"/><text y="6.5">→</text></g>
<g id="n15-12" class="n L" transform="translate(656 790)"><ellipse rx="17.5" ry="21"/><text y="6.5">→</text></g>
<g id="n15-13" class="n B" transform="translate(708 790)"><ellipse rx="17.5" ry="21"/><text y="6.5">→</text></g>
<g id="n15-14" class="n L" transform="translate(760 790)"><ellipse rx="17.5" ry="21"/><text y="6.5">→</text></g>
<g id="n15-15" class="n L" transform="translate(812 790)"><ellipse rx="17.5" ry="21"/><text y="6.5">→</text></g>
<g id="n16-1" class="n B" transform="translate(84 842)"><ellipse rx="17.5" ry="21"/><text y="6.5">←</text></g>
<g id="n16-2" class="n B" transform="translate(136 842)"><ellipse rx="17.5" ry="21"/><text y="6.5">←</text></g>
<g id="n16-3" class="n B" transform="translate(188 842)"><ellipse rx="17.5" ry="21"/><text y="6.5">←</text></g>
<g id="n16-4" class="n L" transform="translate(240 842)"><ellipse rx="17.5" ry="21"/><text y="6.5">←</text></g>
<g id="n16-5" class="n L" transform="translate(292 842)"><ellipse rx="17.5" ry="21"/><text y="6.5">←</text></g>
<g id="n16-6" class="n B" transform="translate(344 842)"><ellipse rx="17.5" ry="21"/><text y="6.5">←</text></g>
<g id="n16-7" class="n L" transform="translate(396 842)"><ellipse rx="17.5" ry="21"/><text y="6.5">←</text></g>
<g id="n16-8" class="n L" transform="translate(448 842)"><ellipse rx="17.5" ry="21"/><text y="6.5">←</text></g>
<g id="n16-9" class="n B" transform="translate(500 842)"><ellipse rx="17.5" ry="21"/><text y="6.5">←</text></g>
<g id="n16-10" class="n L" transform="translate(552 842)"><ellipse rx="17.5" ry="21"/><text y="6.5">←</text></g>
<g id="n16-11" class="n L" transform="translate(604 842)"><ellipse rx="17.5" ry="21"/><text y="6.5">←</text></g>
<g id="n16-12" class="n L" transform="translate(656 842)"><ellipse rx="17.5" ry="21"/><text y="6.5">←</text></g>
<g id="n16-13" class="n L" transform="translate(708 842)"><ellipse rx="17.5" ry="21"/><text y="6.5">←</text></g>
<g id="n16-14" class="n L" transform="translate(760 842)"><ellipse rx="17.5" ry="21"/><text y="6.5">←</text></g>
<g id="n16-15" class="n B" transform="translate(812 842)"><ellipse rx="17.5" ry="21"/><text y="6.5">←</text></g>
</g>
<text id="watermark" class="wm" x="448" y="457">BRACELETBOOK.COM</text>
</svg>
